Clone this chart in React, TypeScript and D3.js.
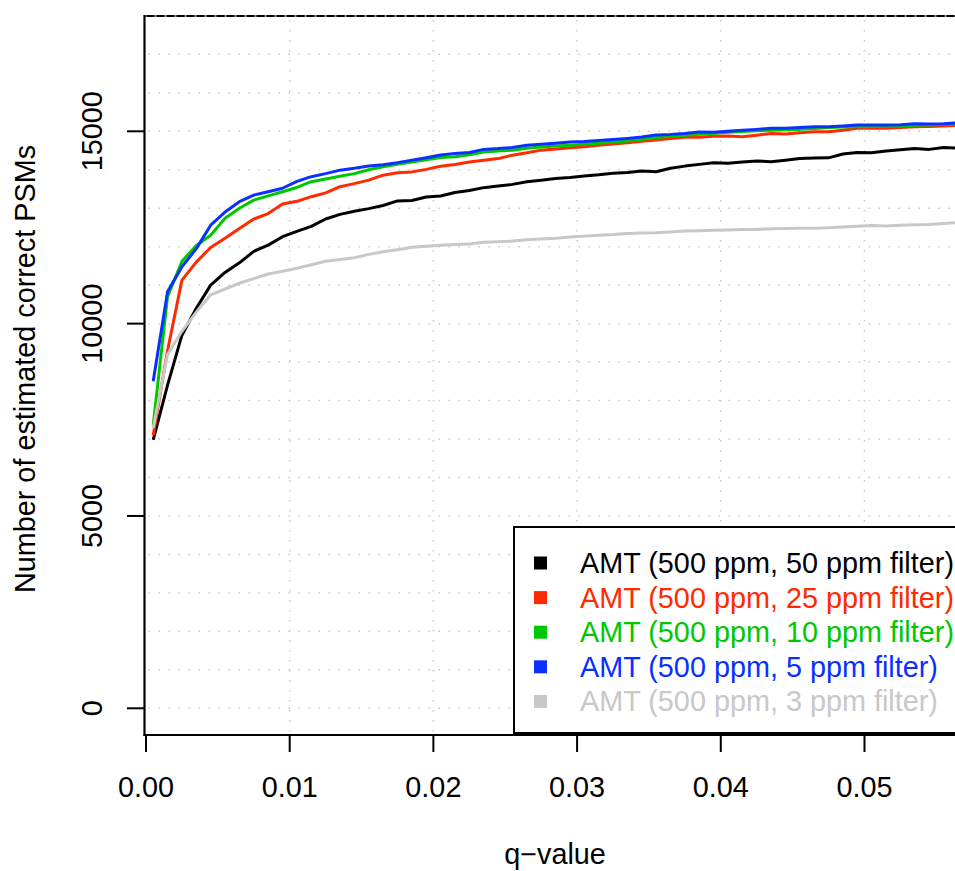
import React from "react";
import * as d3 from "d3";

const qValues = [
  0.0005, 0.0015, 0.0025, 0.0035, 0.0045, 0.0055, 0.0065, 0.0075, 0.0085, 0.0095,
  0.0105, 0.0115, 0.0125, 0.0135, 0.0145, 0.0155, 0.0165, 0.0175, 0.0185, 0.0195,
  0.0205, 0.0215, 0.0225, 0.0235, 0.0245, 0.0255, 0.0265, 0.0275, 0.0285, 0.0295,
  0.0305, 0.0315, 0.0325, 0.0335, 0.0345, 0.0355, 0.0365, 0.0375, 0.0385, 0.0395,
  0.0405, 0.0415, 0.0425, 0.0435, 0.0445, 0.0455, 0.0465, 0.0475, 0.0485, 0.0495,
  0.0505, 0.0515, 0.0525, 0.0535, 0.0545, 0.0555, 0.0565,
];

const amt50 = [
  6980, 8400, 9700, 10400, 11000, 11330, 11580, 11880, 12040, 12260, 12400, 12530,
  12720, 12840, 12920, 12990, 13070, 13190, 13200, 13290, 13320, 13410, 13460, 13535,
  13575, 13620, 13690, 13730, 13770, 13800, 13840, 13870, 13910, 13930,
  13965, 13950, 14040, 14095, 14140, 14180, 14167, 14200, 14227, 14210, 14250, 14290,
  14305, 14310, 14410, 14450, 14445, 14490, 14520, 14555, 14530, 14580, 14560,
];
const amt25 = [
  7100, 9300, 11130, 11600, 11980, 12220, 12470, 12720, 12860, 13110, 13180, 13300,
  13400, 13560, 13640, 13730, 13860, 13925, 13945, 14010, 14090, 14135, 14200, 14245,
  14290, 14380, 14440, 14510, 14540, 14570, 14600, 14640, 14670, 14700,
  14740, 14775, 14810, 14843, 14845, 14870, 14875, 14860, 14900, 14945, 14930, 14960,
  14990, 14990, 15030, 15077, 15077, 15080, 15100, 15115, 15125, 15140, 15155,
];
const amt10 = [
  7360, 10700, 11620, 12030, 12300, 12740, 13000, 13210, 13320, 13430, 13540, 13690,
  13760, 13830, 13900, 14000, 14080, 14140, 14200, 14260, 14320, 14340, 14390, 14460,
  14490, 14510, 14560, 14590, 14615, 14640, 14665, 14690, 14720, 14745,
  14790, 14840, 14870, 14900, 14925, 14945, 14975, 14995, 15015, 15030, 15040, 15050,
  15075, 15100, 15110, 15119, 15125, 15135, 15140, 15155, 15163, 15175, 15189,
];
const amt5 = [
  8500, 10830, 11480, 11950, 12560, 12900, 13170, 13340, 13430, 13520, 13700, 13820,
  13900, 13990, 14040, 14100, 14130, 14180, 14250, 14310, 14385, 14420, 14450, 14530,
  14550, 14580, 14640, 14665, 14690, 14720, 14735, 14760, 14785, 14815,
  14850, 14905, 14920, 14945, 14985, 14975, 15000, 15030, 15050, 15077, 15077, 15100,
  15119, 15119, 15140, 15163, 15163, 15163, 15170, 15197, 15190, 15195, 15222,
];
const amt3 = [
  7280, 9200, 9800, 10300, 10750, 10900, 11050, 11170, 11290, 11360, 11440, 11530,
  11620, 11670, 11715, 11800, 11870, 11920, 11985, 12010, 12040, 12055, 12070, 12115,
  12130, 12147, 12180, 12200, 12220, 12250, 12275, 12295, 12315, 12345,
  12355, 12365, 12385, 12405, 12415, 12430, 12435, 12445, 12450, 12465, 12475, 12478,
  12478, 12490, 12510, 12530, 12550, 12540, 12555, 12570, 12578, 12600, 12625,
];

const seriesNames = [
  "AMT (500 ppm, 50 ppm filter)",
  "AMT (500 ppm, 25 ppm filter)",
  "AMT (500 ppm, 10 ppm filter)",
  "AMT (500 ppm, 5 ppm filter)",
  "AMT (500 ppm, 3 ppm filter)",
];
const seriesValues = [amt50, amt25, amt10, amt5, amt3];
const seriesColors = ["#000000", "#ff2a00", "#00c800", "#0a30ff", "#c8c8c8"];

const xTicks = [0, 0.01, 0.02, 0.03, 0.04, 0.05];
const xTickLabels = ["0.00", "0.01", "0.02", "0.03", "0.04", "0.05"];
const yTicks = [0, 5000, 10000, 15000];
const yGrid = [0, 1000, 2000, 3000, 4000, 5000, 6000, 7000, 8000, 9000, 10000, 11000, 12000, 13000, 14000, 15000, 16000, 17000, 18000];
const xGrid = [0.01, 0.02, 0.03, 0.04, 0.05];

const W = 955;
const H = 871;
const FONT = "'Liberation Sans', Arial, Helvetica, sans-serif";
const FS = 28.8;

export default function App() {
  const x = d3.scaleLinear().domain([0, 0.0563]).range([146, 955]);
  const y = d3.scaleLinear().domain([0, 15000]).range([708.3, 131.3]);
  const left = 144.5;
  const top = 16;
  const bottom = 735;
  const right = 960;

  const line = d3
    .line<number>()
    .x((_, i) => x(qValues[i]))
    .y((d) => y(d));

  const legX = 514;
  const legY = 527;
  const legRow0 = 563;
  const legStep = 34.6;

  return (
    <svg
      width={W}
      height={H}
      style={{ position: "absolute", left: 0, top: 0, background: "#fff" }}
      fontFamily={FONT}
    >
      <rect x={0} y={0} width={W} height={H} fill="#fff" />
      {/* grid */}
      {yGrid.map((v) => (
        <line
          key={"hg" + v}
          x1={left + 4}
          x2={right}
          y1={y(v)}
          y2={y(v)}
          stroke="#c8c8c8"
          strokeWidth={1.5}
          strokeDasharray="1.5 8.5"
        />
      ))}
      {xGrid.map((q) => (
        <line
          key={"vg" + q}
          x1={x(q)}
          x2={x(q)}
          y1={top + 4}
          y2={bottom}
          stroke="#c8c8c8"
          strokeWidth={1.5}
          strokeDasharray="1.5 8.5"
        />
      ))}
      {/* series */}
      {seriesValues.map((vals, k) => (
        <path
          key={"s" + k}
          d={line(vals) || ""}
          fill="none"
          stroke={seriesColors[k]}
          strokeWidth={3}
          strokeLinejoin="round"
          strokeLinecap="butt"
        />
      ))}
      {/* box */}
      <line x1={left} x2={right} y1={top} y2={top} stroke="#000" strokeWidth={2} />
      <line x1={left} x2={right} y1={top} y2={top} stroke="#bbb" strokeWidth={1.4} strokeDasharray="2 8" />
      <line x1={left} x2={left} y1={top - 1} y2={bottom + 1} stroke="#000" strokeWidth={2.2} />
      <line x1={left - 1} x2={right} y1={bottom} y2={bottom} stroke="#000" strokeWidth={2.2} />
      {/* y axis */}
      {yTicks.map((v) => (
        <g key={"yt" + v}>
          <line x1={127} x2={left} y1={y(v)} y2={y(v)} stroke="#000" strokeWidth={2} />
          <text
            x={92}
            y={y(v)}
            transform={`rotate(-90, 92, ${y(v)})`}
            textAnchor="middle"
            dominantBaseline="central"
            fontSize={FS}
            fill="#000"
          >
            {d3.format("d")(v)}
          </text>
        </g>
      ))}
      {/* x axis */}
      {xTicks.map((q, i) => (
        <g key={"xt" + q}>
          <line x1={x(q)} x2={x(q)} y1={bottom} y2={752} stroke="#000" strokeWidth={2} />
          <text
            x={x(q)}
            y={787}
            textAnchor="middle"
            dominantBaseline="central"
            fontSize={FS}
            fill="#000"
          >
            {xTickLabels[i]}
          </text>
        </g>
      ))}
      {/* axis titles */}
      <text x={555} y={854} textAnchor="middle" dominantBaseline="central" fontSize={FS} fill="#000">
        q−value
      </text>
      <text
        x={25}
        y={369}
        transform="rotate(-90, 25, 369)"
        textAnchor="middle"
        dominantBaseline="central"
        fontSize={FS}
        fill="#000"
      >
        Number of estimated correct PSMs
      </text>
      {/* legend */}
      <rect x={legX} y={legY} width={500} height={206} fill="#fff" stroke="#000" strokeWidth={2} />
      {seriesNames.map((name, k) => (
        <g key={"lg" + k}>
          <rect
            x={534}
            y={legRow0 + k * legStep - 6.5}
            width={13}
            height={13}
            fill={seriesColors[k]}
          />
          <text
            x={580}
            y={legRow0 + k * legStep}
            dominantBaseline="central"
            fontSize={FS}
            fill={seriesColors[k]}
          >
            {name}
          </text>
        </g>
      ))}
    </svg>
  );
}
